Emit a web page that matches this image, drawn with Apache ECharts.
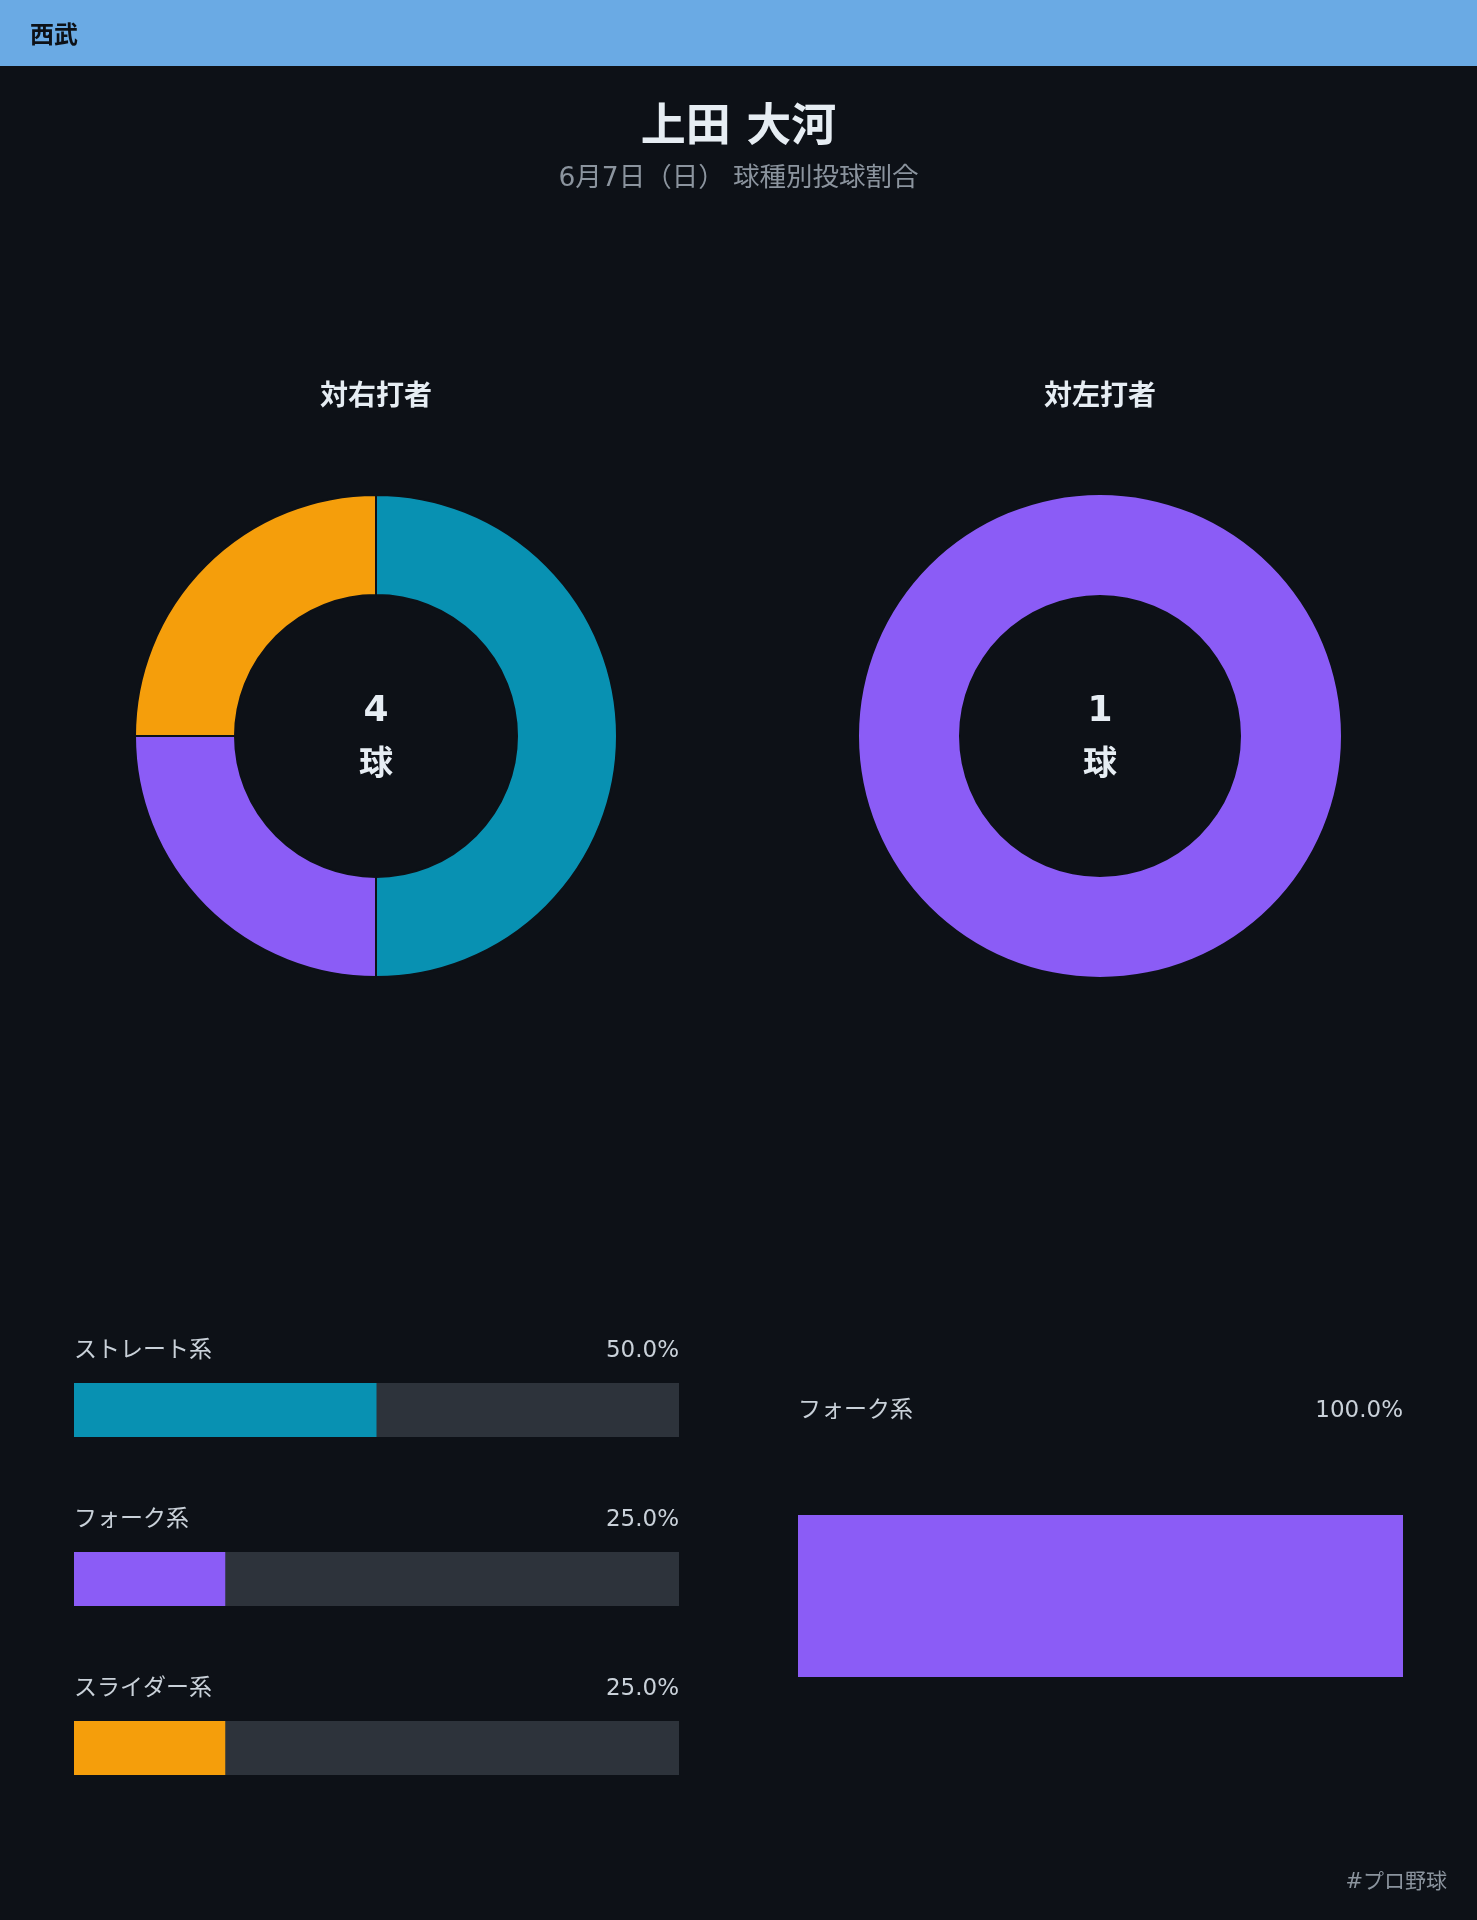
<!DOCTYPE html>
<html>
<head>
<meta charset="utf-8">
<script src="https://cdn.jsdelivr.net/npm/echarts@6/dist/echarts.min.js"></script>
<style>
html,body{margin:0;padding:0;background:#0d1117;}
#chart{width:1477px;height:1920px;}
</style>
</head>
<body>
<div id="chart"></div>
<script>
// ---- data ----
const team = '西武';
const pitcher = '上田 大河';
const subtitle = '6月7日（日） 球種別投球割合';
const footer = '#プロ野球';
const panelTitles = ['対右打者', '対左打者'];

const typesRight = ['ストレート系', 'フォーク系', 'スライダー系'];
const countsRight = [2, 1, 1];
const pctRight = [50.0, 25.0, 25.0];

const typesLeft = ['フォーク系'];
const countsLeft = [1];
const pctLeft = [100.0];

const typeColors = {
  'ストレート系': '#0891b2',
  'フォーク系': '#8b5cf6',
  'スライダー系': '#f59e0b'
};

// ---- chart ----
const FONT = '"DejaVu Sans", "Noto Sans CJK JP", sans-serif';
const chart = echarts.init(document.getElementById('chart'), null, {renderer: 'canvas'});

function sum(a){ return a.reduce((s, v) => s + v, 0); }

function pieData(types, counts){
  return types.map((t, i) => ({name: t, value: counts[i], itemStyle: {color: typeColors[t]}}));
}
function barData(types, pcts){
  return types.map((t, i) => ({name: t, value: pcts[i], itemStyle: {color: typeColors[t]}}));
}

function txt(text, x, y, size, weight, color, align){
  return {
    type: 'text', x: x, y: y, z: 10,
    style: {
      text: text, fill: color, align: align || 'center', verticalAlign: 'middle',
      font: weight + ' ' + size + 'px ' + FONT
    }
  };
}

const barLabel = {
  show: true,
  position: [0, -31.5],
  align: 'left',
  verticalAlign: 'middle',
  formatter: p => '{n|' + p.name + '}{p|' + p.value.toFixed(1) + '%}',
  rich: {
    n: {width: 455, align: 'left', fontSize: 23, color: '#c9d1d9', fontFamily: FONT},
    p: {width: 150, align: 'right', fontSize: 23, color: '#c9d1d9', fontFamily: FONT}
  }
};

const option = {
  backgroundColor: '#0d1117',
  animation: false,
  graphic: [
    {type: 'rect', shape: {x: 0, y: 0, width: 1477, height: 66}, style: {fill: '#6aaae4'}, z: 1},
    txt(team, 30, 36.5, 24, 'bold', '#0d1117', 'left'),
    txt(pitcher, 738.5, 129, 45, 'bold', '#e6edf3'),
    txt(subtitle, 738.5, 179.5, 26.5, 'normal', '#8b949e'),
    txt(panelTitles[0], 376, 397.5, 28, 'bold', '#e6edf3'),
    txt(panelTitles[1], 1100, 397.5, 28, 'bold', '#e6edf3'),
    txt(String(sum(countsRight)), 376, 711.5, 36, 'bold', '#e6edf3'),
    txt('球', 376, 766.5, 34, 'bold', '#e6edf3'),
    txt(String(sum(countsLeft)), 1100, 711.5, 36, 'bold', '#e6edf3'),
    txt('球', 1100, 766.5, 34, 'bold', '#e6edf3'),
    txt(footer, 1447, 1883, 21, 'normal', '#8b949e', 'right')
  ],
  grid: [
    {left: 74, width: 605, top: 1325.5, height: 507},
    {left: 798, width: 605, top: 1515, height: 162}
  ],
  xAxis: [
    {gridIndex: 0, type: 'value', min: 0, max: 100, show: false},
    {gridIndex: 1, type: 'value', min: 0, max: 100, show: false}
  ],
  yAxis: [
    {gridIndex: 0, type: 'category', inverse: true, data: typesRight, show: false},
    {gridIndex: 1, type: 'category', inverse: true, data: typesLeft, show: false}
  ],
  series: [
    {
      type: 'pie', center: [376, 736], radius: [141, 241],
      startAngle: 90, clockwise: true, silent: true,
      label: {show: false}, labelLine: {show: false},
      itemStyle: {borderColor: '#0d1117', borderWidth: 2},
      data: pieData(typesRight, countsRight)
    },
    {
      type: 'pie', center: [1100, 736], radius: [141, 241],
      startAngle: 90, clockwise: true, silent: true,
      label: {show: false}, labelLine: {show: false},
      itemStyle: {borderColor: '#0d1117', borderWidth: 0},
      data: pieData(typesLeft, countsLeft)
    },
    {
      type: 'bar', xAxisIndex: 0, yAxisIndex: 0, barWidth: 54, silent: true,
      showBackground: true, backgroundStyle: {color: '#2d333b'},
      label: barLabel,
      data: barData(typesRight, pctRight)
    },
    {
      type: 'bar', xAxisIndex: 1, yAxisIndex: 1, barWidth: 162, silent: true,
      showBackground: true, backgroundStyle: {color: '#2d333b'},
      label: Object.assign({}, barLabel, {position: [0, -103.5]}),
      data: barData(typesLeft, pctLeft)
    }
  ]
};
chart.setOption(option);
</script>
</body>
</html>
